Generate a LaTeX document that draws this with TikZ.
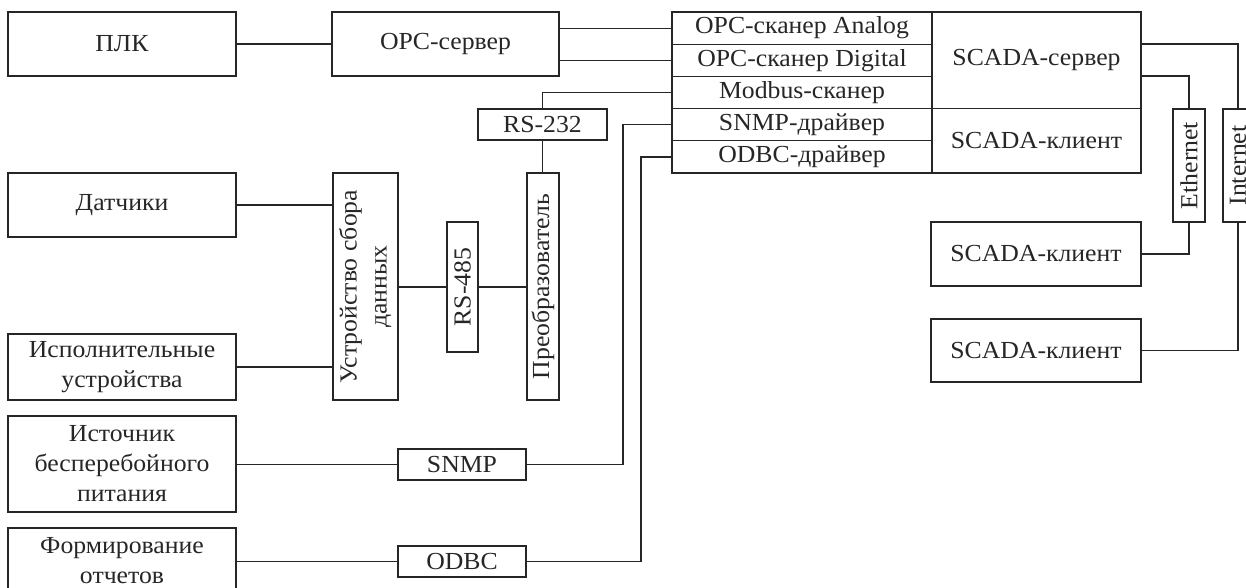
\documentclass[tikz,border=0pt]{standalone}
\usepackage{fontspec}
\setmainfont{Liberation Serif}[FakeStretch=1.05]
\usetikzlibrary{calc}

\begin{document}
\begin{tikzpicture}[x=1pt,y=-1pt,
  box/.style={draw=black!85, line width=1.2pt, inner sep=0pt, align=center,
              text=black!85, font=\fontsize{24.5}{30}\selectfont},
  link/.style={draw=black!85, line width=1.2pt},
]
\useasboundingbox (0,0) rectangle (1246,587);
\clip (0,0) rectangle (1246,587);

% --- top row
\node[box, minimum width=228, minimum height=64] (plc) at (122,44) {ПЛК};
\node[box, minimum width=227, minimum height=64] (opc) at (445.5,44) {OPC-сервер};

% --- stack of scanners / drivers
\node[box, minimum width=260, minimum height=32.2] (r1) at (802,28.1)  {OPC-сканер Analog};
\node[box, minimum width=260, minimum height=32.2] (r2) at (802,60.3)  {OPC-сканер Digital};
\node[box, minimum width=260, minimum height=32.2] (r3) at (802,92.5)  {Modbus-сканер};
\node[box, minimum width=260, minimum height=32.2] (r4) at (802,124.7) {SNMP-драйвер};
\node[box, minimum width=260, minimum height=32.2] (r5) at (802,156.9) {ODBC-драйвер};

\node[box, minimum width=209, minimum height=96.6] (scadaS) at (1036.5,60.3)  {SCADA-сервер};
\node[box, minimum width=209, minimum height=64.4] (scadaC) at (1036.5,140.8) {SCADA-клиент};

% --- networks and remote clients
\node[box, minimum width=32, minimum height=113] (eth)  at (1189,165.5) {\rotatebox{90}{Ethernet}};
\node[box, minimum width=30, minimum height=113] (inet) at (1238,165.5) {\rotatebox{90}{Internet}};
\node[box, minimum width=210, minimum height=64] (client2) at (1036,254)   {SCADA-клиент};
\node[box, minimum width=210, minimum height=63] (client3) at (1036,350.5) {SCADA-клиент};

% --- field level
\node[box, minimum width=228, minimum height=64] (sensors) at (122,205) {Датчики};
\node[box, minimum width=228, minimum height=66] (acts)    at (122,367) {Исполнительные\\устройства};
\node[box, minimum width=65, minimum height=227] (daq) at (365.5,286.5)
  {\rotatebox{90}{\begin{tabular}{@{}c@{}}Устройство сбора\\данных\end{tabular}}};
\node[box, minimum width=31, minimum height=130] (rs485) at (462.5,287) {\rotatebox{90}{RS-485}};
\node[box, minimum width=32, minimum height=227] (conv)  at (543,286.5) {\rotatebox{90}{Преобразователь}};
\node[box, minimum width=129, minimum height=31] (rs232) at (542.5,124.5) {RS-232};

% --- UPS and reports
\node[box, minimum width=228, minimum height=96] (ups) at (122,464) {Источник\\бесперебойного\\питания};
\node[box, minimum width=128, minimum height=31] (snmp) at (462,464.5) {SNMP};
\node[box, minimum width=228, minimum height=66] (reports) at (122,561) {Формирование\\отчетов};
\node[box, minimum width=128, minimum height=31] (odbc) at (462,561.5) {ODBC};

% --- bus positions
\coordinate (snmpbus) at (623,0);
\coordinate (odbcbus) at (641,0);
\coordinate (inetrun) at (0,44);
\coordinate (ethrun)  at (0,76);

% --- connectors
\draw[link] (plc.east) -- (opc.west);
\draw[link] (opc.east |- r1.west) -- (r1.west);
\draw[link] (opc.east |- r2.west) -- (r2.west);
\draw[link] (r3.west) -| (rs232.north);
\draw[link] (rs232.south) -- (rs232.south |- conv.north);
\draw[link] (sensors.east) -- (daq.west |- sensors.east);
\draw[link] (acts.east) -- (daq.west |- acts.east);
\draw[link] (daq.east |- rs485.west) -- (rs485.west);
\draw[link] (rs485.east) -- (conv.west |- rs485.east);
\draw[link] (r4.west) -| (snmpbus |- snmp.east) -- (snmp.east);
\draw[link] (r5.west) -| (odbcbus |- odbc.east) -- (odbc.east);
\draw[link] (ups.east |- snmp.west) -- (snmp.west);
\draw[link] (reports.east |- odbc.west) -- (odbc.west);
\draw[link] (scadaS.east |- inetrun) -| (inet.north);
\draw[link] (scadaS.east |- ethrun) -| (eth.north);
\draw[link] (eth.south) |- (client2.east);
\draw[link] (inet.south) |- (client3.east);
\end{tikzpicture}
\end{document}
